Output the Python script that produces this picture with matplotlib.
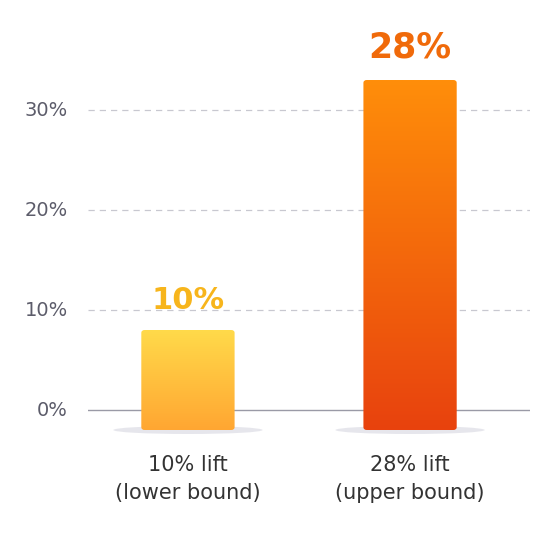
import numpy as np
import matplotlib.pyplot as plt
from matplotlib.patches import FancyBboxPatch, Ellipse
from matplotlib.colors import LinearSegmentedColormap

categories = ['10% lift\n(lower bound)', '28% lift\n(upper bound)']
bar_tops = [8, 33]        # bar top as drawn on the axis (%)
bar_base = -2
value_labels = ['10%', '28%']
yticks = [0, 10, 20, 30]

top_colors = ['#FFDA4A', '#FF8E0A']
bottom_colors = ['#FFA632', '#E8420E']
label_colors = ['#F7B51C', '#F06A0A']

fig = plt.figure(figsize=(5.42, 5.45), dpi=100)
ax = fig.add_axes([88 / 542, 0, 442 / 542, 1])
ax.set_xlim(-0.45, 1.54)
ax.set_ylim(-13.5, 41)
ax.axis('off')

for t in yticks:
    if t == 0:
        ax.axhline(t, color='#9a9aa6', lw=1.0, zorder=1)
    else:
        ax.axhline(t, color='#c8c8d0', lw=0.9, ls=(0, (5, 4)), zorder=1)
    fig.text(68 / 542, (t + 13.5) / 54.5, f'{t}%', ha='right', va='center',
             fontsize=14, color='#5c5c6a')

w = 0.42
for i, (top, cat) in enumerate(zip(bar_tops, categories)):
    ax.add_patch(Ellipse((i, bar_base), w * 1.6, 0.8, color='#d6d6e0', alpha=0.6, zorder=1, lw=0))
    patch = FancyBboxPatch((i - w / 2, bar_base), w, top - bar_base,
                           boxstyle='round,pad=0,rounding_size=0.015',
                           mutation_aspect=20, lw=0, facecolor='none', zorder=2)
    ax.add_patch(patch)
    cmap = LinearSegmentedColormap.from_list('g', [bottom_colors[i], top_colors[i]])
    grad = np.linspace(0, 1, 256).reshape(-1, 1)
    im = ax.imshow(grad, cmap=cmap, origin='lower', aspect='auto',
                   extent=(i - w / 2, i + w / 2, bar_base, top), zorder=2)
    im.set_clip_path(patch)
    ax.text(i, top + 1.5, value_labels[i], ha='center', va='bottom',
            fontsize=22 if i == 0 else 25, fontweight='bold', color=label_colors[i])
    ax.text(i, -4.5, cat, ha='center', va='top', fontsize=15, color='#333333',
            linespacing=1.5)

ax.set_xlim(-0.45, 1.54)
ax.set_ylim(-13.5, 41)
fig.savefig('out.png', dpi=100)
